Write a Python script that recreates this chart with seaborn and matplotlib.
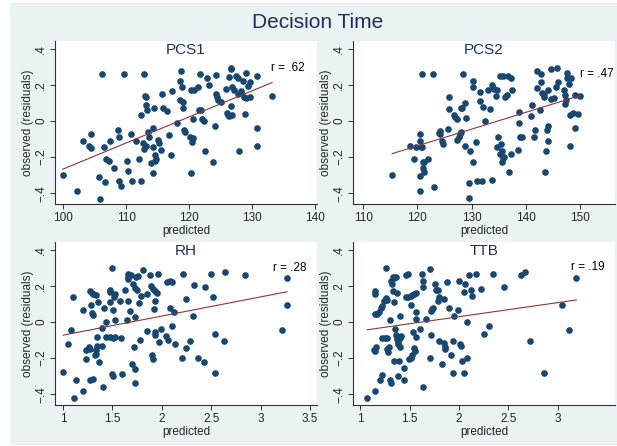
import numpy as np
import pandas as pd
import matplotlib
matplotlib.use("Agg")
import matplotlib.pyplot as plt
from matplotlib.patches import Rectangle
import seaborn as sns

# values
panel_names = ["PCS1", "PCS2", "RH", "TTB"]
r_labels = ["r = .62", "r = .47", "r = .28", "r = .19"]

pcs1_pred = [99.9, 102.2, 103.1, 104.1, 104.4, 104.4, 105.7, 105.9, 106.2, 106.5,
             106.6, 106.8, 107.2, 107.4, 108.0, 108.7, 108.8, 108.9, 109.1, 109.7,
             110.1, 110.3, 110.7, 111.0, 111.6, 112.0, 112.3, 112.3, 112.6, 112.8,
             113.1, 112.9, 113.0, 113.2, 113.2, 113.3, 113.5, 113.7, 114.2, 114.2,
             114.3, 114.4, 114.0, 114.6, 114.8, 114.6, 115.0, 115.2, 115.6, 115.7,
             115.9, 116.5, 116.8, 117.1, 117.2, 118.1, 118.5, 118.7, 118.6, 118.9,
             119.0, 119.0, 119.2, 119.4, 120.2, 120.4, 120.6, 120.3, 120.3, 120.8,
             120.6, 121.4, 121.5, 121.8, 121.9, 122.0, 122.3, 122.5, 122.8, 123.1,
             123.8, 124.1, 124.3, 124.2, 124.4, 124.6, 125.1, 125.8, 126.0, 126.2,
             126.4, 126.3, 126.6, 126.7, 126.6, 126.8, 126.8, 127.1, 127.5, 127.7,
             127.7, 128.2, 127.9, 128.3, 128.5, 128.7, 128.9, 129.1, 129.1, 129.4,
             129.6, 129.7, 130.7, 130.7, 130.8, 133.2]
pcs1_obs = [-0.30, -0.39, -0.11, -0.14, -0.15, -0.07, -0.31, -0.43, 0.26, -0.145,
            -0.34, -0.21, -0.22, -0.11, -0.26, -0.05, -0.33, -0.09, -0.36, 0.26,
            -0.22, -0.28, -0.07, -0.33, -0.11, -0.21, -0.33, 0.03, -0.125, -0.155,
            -0.14, 0.26, 0.135, 0.13, 0.09, 0.06, -0.06, -0.09, -0.145, -0.29,
            -0.04, 0.07, -0.235, -0.19, -0.21, -0.22, -0.105, -0.125, -0.16, 0.15,
            0.07, 0.055, -0.08, -0.19, 0.165, -0.01, 0.22, 0.275, 0.115, 0.185,
            0.105, 0.07, -0.05, -0.06, -0.09, -0.115, -0.095, -0.29, 0.17, 0.17,
            0.01, 0.185, 0.06, 0.26, 0.06, 0.01, 0.0, -0.165, 0.235, 0.2,
            -0.225, -0.03, 0.255, 0.15, 0.13, 0.115, 0.105, 0.175, 0.045, 0.03,
            0.025, 0.245, 0.285, 0.29, 0.085, 0.035, 0.185, 0.17, 0.25, 0.24,
            0.15, 0.16, -0.165, 0.165, 0.22, 0.13, 0.04, 0.125, 0.265, 0.195,
            0.13, 0.215, -0.04, -0.14, 0.25, 0.135]

pcs2_pred = [115.3, 118.6, 119.4, 119.8, 120.5, 120.4, 120.4, 120.5, 120.6, 120.8,
             120.9, 121.0, 121.3, 121.1, 121.2, 121.9, 122.9, 123.1, 123.9, 124.1,
             124.1, 124.5, 124.8, 125.7, 125.9, 125.9, 126.8, 127.0, 127.3, 127.3,
             127.6, 127.9, 128.1, 128.0, 128.3, 128.8, 128.4, 128.7, 129.0, 129.5,
             129.6, 129.8, 130.2, 130.2, 130.3, 130.8, 131.0, 132.0, 131.5, 131.6,
             132.1, 132.4, 133.1, 133.7, 133.8, 133.9, 133.5, 134.2, 134.5, 134.7,
             134.8, 134.7, 135.3, 135.9, 136.7, 137.2, 135.4, 135.3, 135.6, 135.8,
             135.7, 136.0, 136.2, 136.5, 137.0, 137.3, 137.4, 138.7, 138.8, 139.0,
             139.3, 138.6, 141.0, 141.1, 141.6, 141.8, 142.0, 142.1, 142.8, 142.7,
             142.8, 143.1, 143.4, 143.4, 143.5, 143.7, 144.0, 144.2, 144.1, 144.2,
             144.6, 144.7, 145.2, 145.8, 145.6, 146.0, 147.1, 147.3, 147.5, 147.3,
             147.6, 147.7, 148.0, 148.3, 148.1, 148.2, 148.7, 149.6, 149.2, 149.2,
             150.0]
pcs2_obs = [-0.30, -0.14, -0.21, -0.145, -0.39, -0.075, -0.11, -0.305, -0.145, -0.145,
            0.26, -0.225, -0.225, -0.26, -0.285, -0.21, 0.26, -0.365, -0.065, -0.055,
            -0.075, -0.11, -0.13, -0.045, 0.13, 0.065, 0.03, 0.02, 0.01, -0.105,
            -0.09, -0.075, -0.06, 0.07, 0.07, 0.1, 0.26, -0.14, 0.015, -0.425,
            -0.345, -0.165, 0.22, 0.185, -0.225, -0.115, -0.33, -0.33, 0.16, 0.11,
            0.075, 0.0, 0.17, -0.325, 0.2, 0.18, 0.065, 0.175, 0.14, 0.17,
            -0.09, -0.145, 0.25, 0.25, 0.25, 0.24, -0.13, -0.185, -0.23, -0.205,
            -0.165, -0.2, 0.13, 0.145, -0.285, -0.185, 0.17, 0.05, -0.01, -0.09,
            -0.09, -0.16, 0.025, 0.09, -0.09, -0.05, 0.18, 0.275, 0.26, 0.06,
            0.215, 0.155, 0.13, 0.15, -0.285, -0.165, -0.05, -0.03, -0.11, 0.17,
            0.285, 0.12, 0.125, 0.29, 0.19, 0.215, 0.17, 0.145, 0.115, 0.095,
            0.265, 0.24, 0.205, 0.24, -0.14, 0.03, 0.045, 0.04, 0.145, -0.04,
            0.135]

rh_pred = [1.00, 1.047, 1.08, 1.10, 1.11, 1.13, 1.20, 1.20, 1.23, 1.23,
           1.26, 1.27, 1.27, 1.28, 1.29, 1.30, 1.29, 1.30, 1.33, 1.27,
           1.30, 1.33, 1.33, 1.32, 1.34, 1.34, 1.35, 1.37, 1.40, 1.40,
           1.41, 1.42, 1.44, 1.44, 1.48, 1.51, 1.53, 1.48, 1.48, 1.48,
           1.50, 1.50, 1.51, 1.51, 1.52, 1.53, 1.53, 1.58, 1.59, 1.60,
           1.63, 1.65, 1.66, 1.66, 1.66, 1.66, 1.69, 1.68, 1.70, 1.71,
           1.73, 1.75, 1.72, 1.73, 1.73, 1.73, 1.74, 1.76, 1.77, 1.78,
           1.79, 1.81, 1.85, 1.85, 1.88, 1.89, 1.91, 1.93, 1.90, 1.91,
           1.92, 1.93, 1.93, 1.93, 1.95, 1.96, 1.97, 1.99, 2.04, 2.06,
           2.05, 2.08, 2.10, 2.08, 2.10, 2.12, 2.13, 2.20, 2.21, 2.24,
           2.25, 2.29, 2.32, 2.33, 2.37, 2.43, 2.44, 2.50, 2.52, 2.54,
           2.54, 2.63, 2.64, 2.84, 3.22, 3.27, 3.27]
rh_obs = [-0.28, -0.12, -0.046, 0.138, -0.42, -0.32, -0.385, 0.065, -0.205, -0.157,
          -0.14, 0.17, -0.148, 0.096, 0.05, 0.04, 0.16, 0.152, 0.147, -0.32,
          -0.316, -0.157, -0.177, -0.186, -0.083, -0.135, 0.11, -0.22, -0.135, -0.033,
          -0.36, 0.077, 0.0, -0.083, -0.085, -0.087, -0.083, 0.163, 0.175, 0.109,
          0.297, -0.29, -0.30, 0.065, 0.135, 0.153, 0.009, 0.118, -0.092, -0.286,
          0.175, 0.013, 0.114, 0.249, 0.267, 0.24, 0.258, 0.061, -0.231, 0.207,
          0.188, 0.175, -0.14, 0.028, -0.26, -0.34, 0.249, 0.252, 0.107, -0.101,
          0.142, 0.289, 0.153, -0.05, 0.258, 0.2, 0.182, 0.171, -0.183, -0.203,
          0.074, 0.116, -0.055, -0.072, 0.16, 0.267, -0.109, -0.039, -0.076, -0.101,
          0.22, 0.225, 0.221, 0.076, -0.024, 0.057, -0.124, -0.2, 0.267, -0.142,
          0.129, -0.105, 0.031, 0.206, -0.2, -0.22, 0.195, 0.264, 0.14, -0.282,
          -0.065, -0.105, 0.276, 0.26, -0.046, 0.243, 0.096]

ttb_pred = [1.07, 1.15, 1.14, 1.16, 1.15, 1.15, 1.15, 1.15, 1.17, 1.19,
            1.20, 1.21, 1.22, 1.24, 1.25, 1.22, 1.22, 1.25, 1.26, 1.26,
            1.27, 1.27, 1.27, 1.28, 1.29, 1.30, 1.30, 1.31, 1.31, 1.32,
            1.33, 1.34, 1.36, 1.33, 1.34, 1.34, 1.35, 1.36, 1.37, 1.37,
            1.38, 1.38, 1.37, 1.38, 1.39, 1.40, 1.40, 1.40, 1.41, 1.44,
            1.44, 1.46, 1.48, 1.46, 1.48, 1.51, 1.52, 1.54, 1.56, 1.51,
            1.49, 1.51, 1.52, 1.53, 1.54, 1.55, 1.56, 1.56, 1.56, 1.60,
            1.62, 1.64, 1.64, 1.64, 1.67, 1.71, 1.71, 1.72, 1.72, 1.73,
            1.74, 1.76, 1.77, 1.79, 1.79, 1.80, 1.80, 1.83, 1.85, 1.85,
            1.86, 1.86, 1.88, 1.90, 1.92, 1.94, 1.94, 1.95, 1.99, 2.00,
            2.01, 2.02, 2.03, 2.05, 2.05, 2.06, 2.08, 2.08, 2.10, 2.12,
            2.13, 2.17, 2.22, 2.25, 2.30, 2.34, 2.46, 2.63, 2.67, 2.72,
            2.86, 3.04, 3.11, 3.19]
ttb_obs = [-0.424, -0.385, -0.155, -0.14, -0.16, 0.171, 0.157, 0.041, 0.046, 0.055,
           -0.323, 0.076, 0.087, 0.114, 0.12, -0.294, -0.087, -0.087, 0.299, 0.13,
           0.12, -0.087, -0.15, -0.164, -0.138, 0.009, -0.323, -0.34, 0.225, 0.207,
           0.249, 0.245, 0.249, 0.171, 0.109, -0.219, -0.037, -0.074, -0.094, -0.083,
           -0.111, -0.124, 0.162, -0.301, -0.219, 0.031, -0.138, -0.092, -0.079, -0.258,
           -0.323, 0.258, 0.264, 0.138, 0.138, 0.142, 0.149, 0.157, 0.16, 0.092,
           -0.205, -0.201, -0.186, -0.057, -0.142, -0.16, -0.083, 0.053, 0.017, -0.039,
           0.267, 0.225, 0.194, -0.36, 0.017, 0.29, -0.201, -0.074, 0.061, 0.074,
           0.079, 0.207, 0.175, 0.179, 0.114, 0.135, -0.105, -0.231, 0.127, -0.116,
           -0.138, -0.149, 0.22, 0.076, -0.186, -0.282, -0.105, 0.031, 0.065, 0.225,
           -0.12, -0.135, -0.219, -0.282, 0.164, 0.212, -0.002, -0.2, 0.258, 0.177,
           0.142, 0.264, 0.181, -0.065, -0.024, 0.267, 0.195, 0.26, 0.275, -0.105,
           -0.282, 0.096, -0.046, 0.243]

y_ticks = [-0.4, -0.2, 0, 0.2, 0.4]
y_ticklabels = ["\u2212.4", "\u2212.2", "0", ".2", ".4"]
x_ticks = [[100, 110, 120, 130, 140],
           [110, 120, 130, 140, 150],
           [1, 1.5, 2, 2.5, 3, 3.5],
           [1, 1.5, 2, 2.5, 3]]
x_ticklabels = [["100", "110", "120", "130", "140"],
                ["110", "120", "130", "140", "150"],
                ["1", "1.5", "2", "2.5", "3", "3.5"],
                ["1", "1.5", "2", "2.5", "3"]]

preds = [pcs1_pred, pcs2_pred, rh_pred, ttb_pred]
obss = [pcs1_obs, pcs2_obs, rh_obs, ttb_obs]

# layout / style
x_limits = [(98.7, 140.3), (108.1, 156.5), (0.92, 3.57), (0.926, 3.58)]
r_pos = [(133.0, 0.295), (150.0, 0.257), (3.13, 0.30), (3.13, 0.304)]
W, H = 617, 446
panel_px = [(55, 41), (353, 41), (55, 242), (353, 242)]
pw, ph = 262, 163

sns.set_theme(style="white")
plt.rcParams["font.family"] = ["Liberation Sans", "DejaVu Sans"]

bg = "#eaf2f3"
navy = "#1a476f"
maroon = "#90353b"
title_col = "#1e2f5c"

fig = plt.figure(figsize=(W / 100, H / 100), dpi=100)
fig.patch.set_facecolor("white")
fig.add_artist(Rectangle((10 / W, 1 / H), (W - 10) / W, (H - 4) / H,
                         transform=fig.transFigure, facecolor=bg,
                         edgecolor="none", zorder=0))

fig.text(318 / W, 1 - 23 / H, "Decision Time", ha="center", va="center",
         fontsize=15, color=title_col)

for i in range(4):
    px, py = panel_px[i]
    ax = fig.add_axes([px / W, 1 - (py + ph) / H, pw / W, ph / H])
    ax.set_facecolor("white")
    df = pd.DataFrame({"predicted": preds[i], "observed": obss[i]})
    sns.regplot(data=df, x="predicted", y="observed", ax=ax, ci=None,
                scatter_kws={"s": 23, "color": navy, "linewidths": 0, "alpha": 1},
                line_kws={"color": maroon, "linewidth": 0.8})
    ax.set_xlim(*x_limits[i])
    ax.set_ylim(-0.46, 0.442)
    ax.set_xticks(x_ticks[i])
    ax.set_xticklabels(x_ticklabels[i])
    ax.set_yticks(y_ticks)
    ax.set_yticklabels(y_ticklabels, rotation=90, va="center")
    for side in ["top", "right"]:
        ax.spines[side].set_visible(False)
    for side in ["left", "bottom"]:
        ax.spines[side].set_color("#333333")
        ax.spines[side].set_linewidth(0.8)
    ax.tick_params(direction="out", length=3.5, width=0.7, color="#333333",
                   labelsize=8.5, pad=2, left=True, bottom=True)
    ax.set_xlabel("predicted", fontsize=8.5, labelpad=1)
    ax.set_ylabel("observed (residuals)", fontsize=8.5, labelpad=1)
    ax.text(0.5, 0.985, panel_names[i], transform=ax.transAxes, ha="center",
            va="top", fontsize=11, color=title_col)
    ax.text(r_pos[i][0], r_pos[i][1], r_labels[i], ha="left", va="center",
            fontsize=8.5, color="black")

fig.savefig("out.png", dpi=100, facecolor="white")
